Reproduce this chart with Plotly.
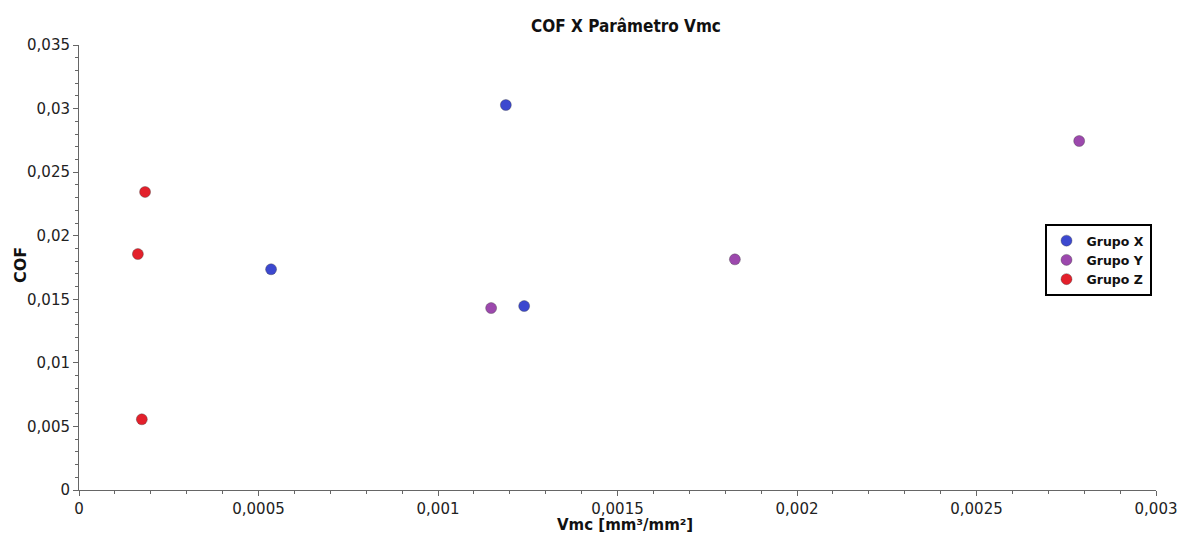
import plotly.graph_objects as go

# Data
grupo_x_vmc = [0.000535, 0.001189, 0.00124]
grupo_x_cof = [0.01736, 0.03028, 0.01447]

grupo_y_vmc = [0.001148, 0.001827, 0.002786]
grupo_y_cof = [0.01431, 0.01814, 0.02745]

grupo_z_vmc = [0.000184, 0.000164, 0.000175]
grupo_z_cof = [0.02344, 0.01856, 0.00556]

series_names = ["Grupo X", "Grupo Y", "Grupo Z"]
series_colors = ["#3c48cf", "#9c48ad", "#e3202b"]

x_ticks = [0, 0.0005, 0.001, 0.0015, 0.002, 0.0025, 0.003]
y_ticks = [0, 0.005, 0.01, 0.015, 0.02, 0.025, 0.03, 0.035]


def fmt(v):
    s = ("%.4f" % v).rstrip("0").rstrip(".")
    return s.replace(".", ",")


fig = go.Figure()
for name, xs, ys, col in zip(
    series_names,
    [grupo_x_vmc, grupo_y_vmc, grupo_z_vmc],
    [grupo_x_cof, grupo_y_cof, grupo_z_cof],
    series_colors,
):
    fig.add_trace(
        go.Scatter(
            x=xs,
            y=ys,
            mode="markers",
            name=name,
            marker=dict(size=11, color=col, line=dict(width=0.6, color="rgba(60,60,60,0.6)")),
        )
    )

font_family = "DejaVu Sans, Verdana, sans-serif"
L, R, T, B = 79, 22, 45, 44
W, H = 1178, 534
pw, ph = W - L - R, H - T - B

fig.update_layout(
    width=W,
    height=H,
    margin=dict(l=L, r=R, t=T, b=B, autoexpand=False),
    paper_bgcolor="white",
    plot_bgcolor="white",
    font=dict(family=font_family, size=14, color="#222"),
    title=dict(
        text="<b>COF X Parâmetro Vmc</b>",
        x=626 / W,
        xanchor="center",
        y=1 - 26 / H,
        yanchor="middle",
        font=dict(family="DejaVu Sans Condensed, DejaVu Sans, sans-serif", size=17, color="#111"),
    ),
    showlegend=True,
    legend=dict(
        x=(1098 - L) / pw,
        y=(H - B - 224) / ph,
        xanchor="center",
        yanchor="top",
        bgcolor="white",
        bordercolor="black",
        borderwidth=2,
        font=dict(family="DejaVu Sans, sans-serif", size=12.5, color="#111", weight="bold"),
        itemwidth=30,
        tracegroupgap=2,
    ),
    annotations=[
        dict(
            text="<b>Vmc [mm³/mm²]</b>",
            xref="paper",
            yref="paper",
            x=(625 - L) / pw,
            y=-(525 - (H - B)) / ph,
            xanchor="center",
            yanchor="middle",
            showarrow=False,
            font=dict(family="DejaVu Sans, sans-serif", size=15, color="#111"),
        ),
        dict(
            text="<b>COF</b>",
            xref="paper",
            yref="paper",
            x=-(L - 20) / pw,
            y=(H - B - 265) / ph,
            xanchor="center",
            yanchor="middle",
            textangle=-90,
            showarrow=False,
            font=dict(family="DejaVu Sans, sans-serif", size=16, color="#111"),
        ),
    ],
)

fig.update_xaxes(
    range=[0, 0.003],
    automargin=False,
    tickmode="array",
    tickvals=x_ticks,
    ticktext=[fmt(v) for v in x_ticks],
    showgrid=False,
    zeroline=False,
    showline=True,
    linecolor="#666",
    linewidth=1,
    ticks="outside",
    ticklen=5,
    tickcolor="#666",
    minor=dict(ticks="outside", dtick=0.0001, ticklen=3, tickcolor="#666", showgrid=False),
    tickfont=dict(size=15, color="#222"),
)

fig.update_yaxes(
    range=[0, 0.035],
    automargin=False,
    tickmode="array",
    tickvals=y_ticks,
    ticktext=[fmt(v) for v in y_ticks],
    showgrid=False,
    zeroline=False,
    showline=True,
    linecolor="#666",
    linewidth=1,
    ticks="outside",
    ticklen=5,
    tickcolor="#666",
    minor=dict(ticks="outside", dtick=0.001, ticklen=3, tickcolor="#666", showgrid=False),
    tickfont=dict(size=15, color="#222"),
)

fig.write_html("out.html")
